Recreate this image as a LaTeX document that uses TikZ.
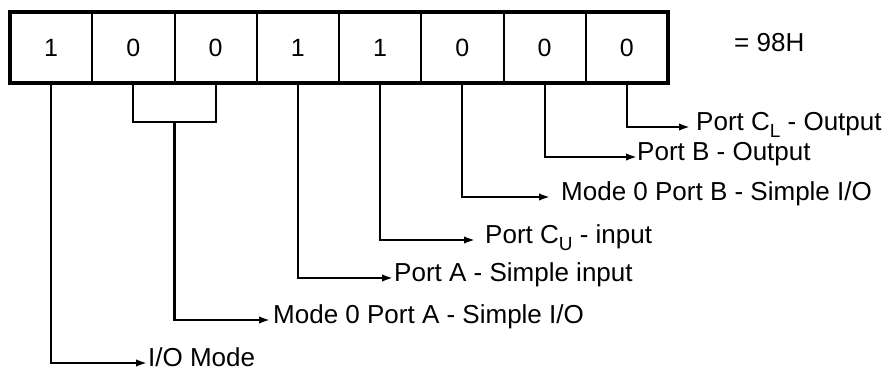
\documentclass[tikz,border=0pt]{standalone}
\usepackage{fontspec}
\setmainfont{Liberation Sans}
\usetikzlibrary{arrows.meta,calc}
\newcommand{\lowsub}[1]{\raisebox{-0.28em}{\fontsize{19}{19}\selectfont #1}}
\begin{document}
\begin{tikzpicture}[x=1pt,y=-1pt,
  bitcell/.style={draw, line width=2pt, minimum width=82.25pt, minimum height=71pt,
    inner sep=0pt, outer sep=0pt, font=\fontsize{25}{30}\selectfont},
  lbl/.style={anchor=west, inner xsep=#1, inner ysep=0pt, text height=0.72em, text depth=0pt,
    font=\fontsize{26}{30}\selectfont},
  lbl/.default=1pt,
  conn/.style={line width=2.1pt, -{Latex[length=11pt,width=7.5pt]}},
  wire/.style={line width=2.1pt}]
\useasboundingbox (0,0) rectangle (889,375);
\foreach \i/\v [count=\k from 0] in {7/1,6/0,5/0,4/1,3/1,2/0,1/0,0/0}
  \node[bitcell] (c\i) at ({10+82.25*(\k+0.5)},47.5) {\v};
\draw[line width=3.4pt] (c7.north west) rectangle (c0.south east);
\node[lbl] (eq) at (733,48) {= 98H};
% labels
\node[lbl=1pt]  (l7) at (147,363) {I/O Mode};
\node[lbl=3pt]  (l65) at (270,320) {Mode 0 Port A - Simple I/O};
\node[lbl=1pt]  (l4) at (393,278) {Port A - Simple input};
\node[lbl=10pt] (l3) at (475,240) {Port C\lowsub{U} - input};
\node[lbl=11pt] (l2) at (550,197) {Mode 0 Port B - Simple I/O};
\node[lbl=0pt]  (l1) at (637,157) {Port B - Output};
\node[lbl=6pt]  (l0) at (690,127) {Port C\lowsub{L} - Output};
% bracket for bits 6 and 5
\coordinate (br) at ($(c6.south)!0.5!(c5.south)+(0,39)$);
\draw[wire] (c6.south) |- (br) -| (c5.south);
% connectors
\draw[conn] (c7.south) |- (l7.west);
\draw[conn] (br) |- (l65.west);
\draw[conn] (c4.south) |- (l4.west);
\draw[conn] (c3.south) |- (l3.west);
\draw[conn] (c2.south) |- (l2.west);
\draw[conn] (c1.south) |- (l1.west);
\draw[conn] (c0.south) |- (l0.west);
\end{tikzpicture}
\end{document}
